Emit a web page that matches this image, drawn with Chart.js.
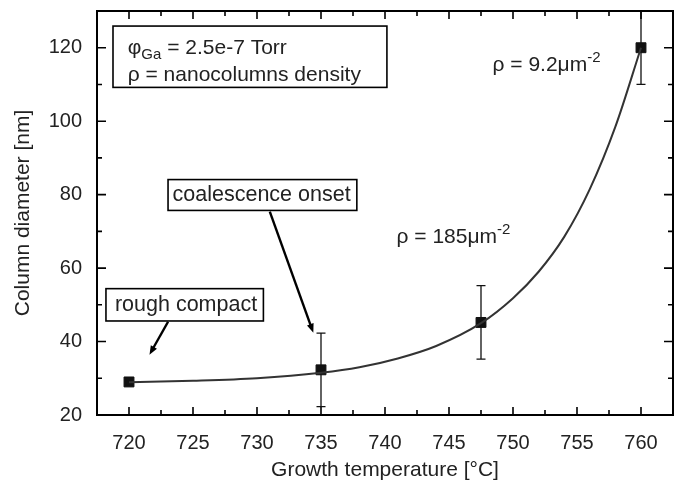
<!DOCTYPE html>
<html>
<head>
<meta charset="utf-8">
<script src="https://cdn.jsdelivr.net/npm/chart.js@4.4.1/dist/chart.umd.min.js"></script>
<style>
  body { margin: 0; background: #fff; }
  canvas { display: block; }
</style>
</head>
<body>
<canvas id="diameterChart" width="681" height="486"></canvas>
<script>
// measured column diameters
const temps = [720, 735, 747.5, 760];
const diameters = [29, 32.3, 45.2, 120];
const errors = [0, 10, 10, 10];

// exponential fit curve
const fitTemps = [720, 725, 730, 735, 738, 741, 744, 747.5, 750, 752, 754, 756, 758, 760];
const fitDiameters = [28.9, 29.3, 30.0, 31.5, 33.0, 35.4, 38.8, 45.0, 51.8, 59.0, 68.5, 81.5, 98.5, 120];

const xTicks = [720, 725, 730, 735, 740, 745, 750, 755, 760];
const yTicks = [20, 40, 60, 80, 100, 120];

const FONT = '"Liberation Sans", Arial, sans-serif';
const TEXT = '#222';

function drawRuns(ctx, x, y, runs) {
    runs.forEach(r => {
        ctx.font = r.size + 'px ' + FONT;
        ctx.fillText(r.text, x, y + (r.dy || 0));
        x += ctx.measureText(r.text).width;
    });
}

// frame + inward ticks on all four sides
const framePlugin = {
    id: 'frame',
    afterDraw(chart) {
        const { ctx, chartArea: a, scales: { x, y } } = chart;
        ctx.save();
        ctx.strokeStyle = '#000';
        ctx.lineWidth = 1.6;
        ctx.beginPath();
        xTicks.forEach((v, i) => {
            const px = x.getPixelForValue(v);
            ctx.moveTo(px, a.bottom); ctx.lineTo(px, a.bottom - 8);
            ctx.moveTo(px, a.top); ctx.lineTo(px, a.top + 8);
            if (i < xTicks.length - 1) {
                const m = x.getPixelForValue((v + xTicks[i + 1]) / 2);
                ctx.moveTo(m, a.bottom); ctx.lineTo(m, a.bottom - 5);
                ctx.moveTo(m, a.top); ctx.lineTo(m, a.top + 5);
            }
        });
        yTicks.forEach((v, i) => {
            const py = y.getPixelForValue(v);
            ctx.moveTo(a.left, py); ctx.lineTo(a.left + 9, py);
            ctx.moveTo(a.right, py); ctx.lineTo(a.right - 9, py);
            if (i < yTicks.length - 1) {
                const m = y.getPixelForValue((v + yTicks[i + 1]) / 2);
                ctx.moveTo(a.left, m); ctx.lineTo(a.left + 5, m);
                ctx.moveTo(a.right, m); ctx.lineTo(a.right - 5, m);
            }
        });
        ctx.stroke();
        ctx.lineWidth = 2;
        ctx.strokeRect(a.left, a.top, a.right - a.left, a.bottom - a.top);
        ctx.restore();
    }
};

const errorBarPlugin = {
    id: 'errorBars',
    beforeDatasetsDraw(chart) {
        const { ctx, chartArea: a, scales: { x, y } } = chart;
        ctx.save();
        ctx.beginPath();
        ctx.rect(a.left, a.top, a.right - a.left, a.bottom - a.top);
        ctx.clip();
        ctx.strokeStyle = '#111';
        ctx.lineWidth = 1.3;
        ctx.beginPath();
        temps.forEach((t, i) => {
            if (!errors[i]) return;
            const px = x.getPixelForValue(t);
            const top = y.getPixelForValue(diameters[i] + errors[i]);
            const bot = y.getPixelForValue(diameters[i] - errors[i]);
            ctx.moveTo(px, top); ctx.lineTo(px, bot);
            ctx.moveTo(px - 4.5, top); ctx.lineTo(px + 4.5, top);
            ctx.moveTo(px - 4.5, bot); ctx.lineTo(px + 4.5, bot);
        });
        ctx.stroke();
        ctx.restore();
    }
};

function arrow(ctx, x1, y1, x2, y2) {
    const ang = Math.atan2(y2 - y1, x2 - x1);
    ctx.beginPath();
    ctx.moveTo(x1, y1);
    ctx.lineTo(x2 - 6 * Math.cos(ang), y2 - 6 * Math.sin(ang));
    ctx.stroke();
    ctx.beginPath();
    ctx.moveTo(x2, y2);
    ctx.lineTo(x2 - 9 * Math.cos(ang) + 3.5 * Math.sin(ang), y2 - 9 * Math.sin(ang) - 3.5 * Math.cos(ang));
    ctx.lineTo(x2 - 9 * Math.cos(ang) - 3.5 * Math.sin(ang), y2 - 9 * Math.sin(ang) + 3.5 * Math.cos(ang));
    ctx.closePath();
    ctx.fill();
}

// text boxes, labels and arrows (placed in data coordinates)
const notesPlugin = {
    id: 'notes',
    afterDraw(chart) {
        const { ctx, scales: { x, y } } = chart;
        const X = v => x.getPixelForValue(v);
        const Y = v => y.getPixelForValue(v);
        const box = (x1, y1, x2, y2) => {
            ctx.fillStyle = '#fff';
            ctx.fillRect(X(x1), Y(y1), X(x2) - X(x1), Y(y2) - Y(y1));
            ctx.strokeRect(X(x1), Y(y1), X(x2) - X(x1), Y(y2) - Y(y1));
        };
        ctx.save();
        ctx.strokeStyle = '#000';
        ctx.lineWidth = 1.6;
        ctx.textBaseline = 'alphabetic';

        box(718.75, 125.9, 740.15, 109.2);
        ctx.fillStyle = TEXT;
        drawRuns(ctx, X(719.9), Y(118.2), [
            { text: 'φ', size: 21 },
            { text: 'Ga', size: 15, dy: 5 },
            { text: ' = 2.5e-7 Torr', size: 21 }
        ]);
        drawRuns(ctx, X(719.9), Y(110.9), [{ text: 'ρ = nanocolumns density', size: 21 }]);

        box(723.05, 84.1, 737.8, 75.7);
        ctx.fillStyle = TEXT;
        drawRuns(ctx, X(723.4), Y(78.2), [{ text: 'coalescence onset', size: 21.5 }]);

        box(718.2, 54.4, 730.5, 45.6);
        ctx.fillStyle = TEXT;
        drawRuns(ctx, X(718.9), Y(48.2), [{ text: 'rough compact', size: 21.5 }]);

        drawRuns(ctx, X(748.4), Y(113.6), [
            { text: 'ρ = 9.2μm', size: 21 },
            { text: '-2', size: 15, dy: -9 }
        ]);
        drawRuns(ctx, X(740.9), Y(66.9), [
            { text: 'ρ = 185μm', size: 21 },
            { text: '-2', size: 15, dy: -9 }
        ]);

        ctx.fillStyle = '#000';
        ctx.strokeStyle = '#000';
        ctx.lineWidth = 2.4;
        arrow(ctx, X(731.0), Y(75.4), X(734.4), Y(42.4));
        arrow(ctx, X(723.05), Y(45.4), X(721.6), Y(36.4));
        ctx.restore();
    }
};

document.addEventListener('DOMContentLoaded', function () {
    const ctx = document.getElementById('diameterChart').getContext('2d');
    new Chart(ctx, {
        type: 'scatter',
        data: {
            datasets: [{
                label: 'Fit',
                data: fitTemps.map((t, i) => ({ x: t, y: fitDiameters[i] })),
                showLine: true,
                borderColor: '#333',
                borderWidth: 2,
                pointRadius: 0,
                cubicInterpolationMode: 'monotone'
            }, {
                label: 'Column diameter',
                data: temps.map((t, i) => ({ x: t, y: diameters[i] })),
                pointStyle: 'rect',
                pointRadius: 7,
                backgroundColor: '#111',
                borderColor: '#111',
                borderWidth: 1
            }]
        },
        options: {
            responsive: false,
            animation: false,
            layout: { padding: { top: 11, right: 8, left: 0, bottom: 0 } },
            plugins: {
                legend: { display: false },
                tooltip: { enabled: false }
            },
            scales: {
                x: {
                    type: 'linear',
                    min: 717.5,
                    max: 762.5,
                    afterBuildTicks: s => { s.ticks = xTicks.map(v => ({ value: v })); },
                    afterFit: s => { s.height = 71; s.paddingLeft = 0; s.paddingRight = 0; },
                    grid: { display: false, drawTicks: false },
                    border: { display: false },
                    ticks: { color: TEXT, padding: 16, font: { family: FONT, size: 20 } },
                    title: {
                        display: true,
                        text: 'Growth temperature [°C]',
                        color: TEXT,
                        padding: { top: 0, bottom: 3 },
                        font: { family: FONT, size: 21 }
                    }
                },
                y: {
                    min: 20,
                    max: 130,
                    afterBuildTicks: s => { s.ticks = yTicks.map(v => ({ value: v })); },
                    afterFit: s => { s.width = 97; s.paddingTop = 0; s.paddingBottom = 0; },
                    grid: { display: false, drawTicks: false },
                    border: { display: false },
                    ticks: { color: TEXT, padding: 15, font: { family: FONT, size: 20 } },
                    title: {
                        display: true,
                        text: 'Column diameter [nm]',
                        color: TEXT,
                        padding: { top: 11, bottom: 0 },
                        font: { family: FONT, size: 21 }
                    }
                }
            }
        },
        plugins: [errorBarPlugin, framePlugin, notesPlugin]
    });
});
</script>
</body>
</html>
